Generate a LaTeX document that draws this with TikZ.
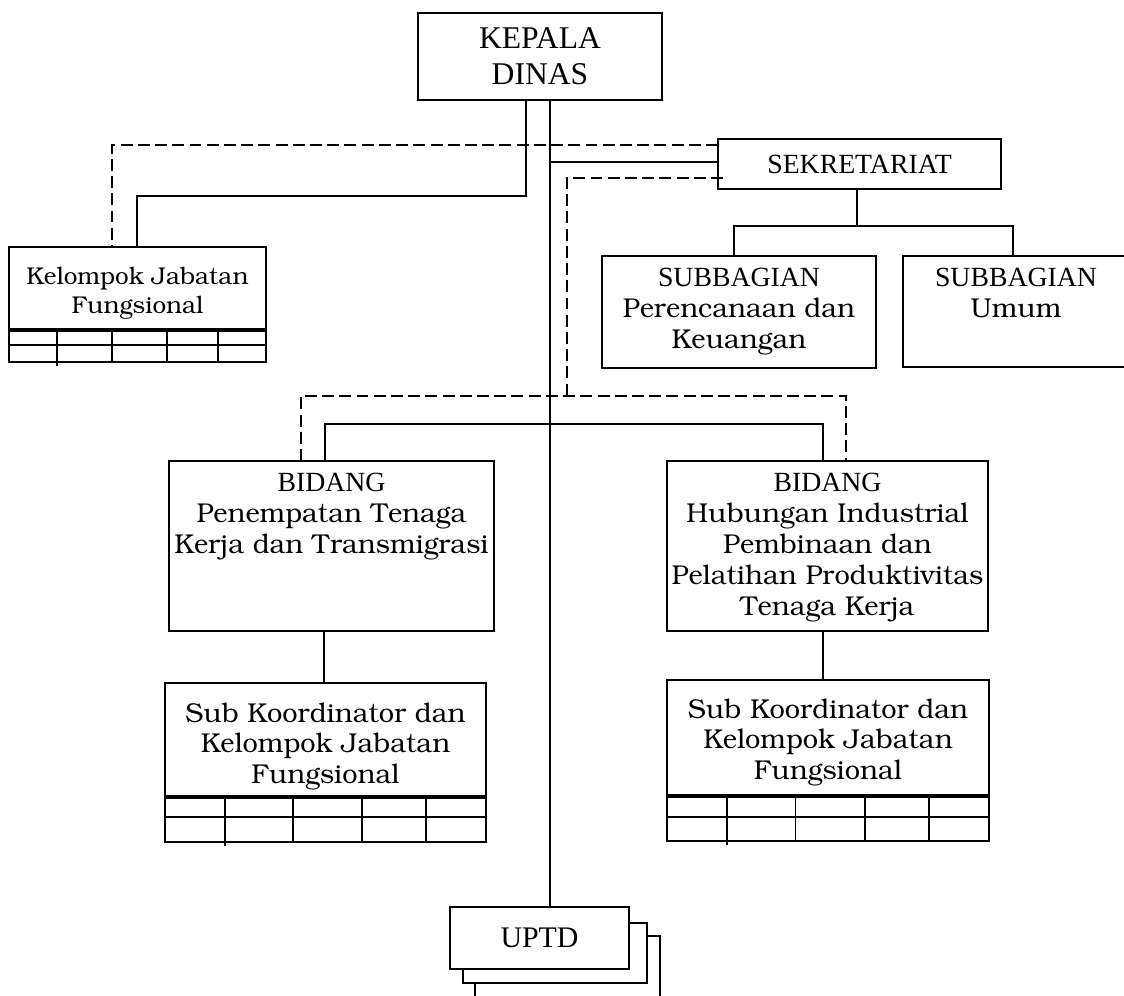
\documentclass[tikz,border=0pt]{standalone}
\usepackage[T1]{fontenc}
\usepackage{fontspec}
\setmainfont{Liberation Serif}
\usetikzlibrary{calc}
\newcommand{\bkm}{\fontencoding{T1}\fontfamily{pbk}\selectfont}
\newcommand{\tms}{\normalfont\fontsize{15.8}{17.6}\selectfont}

\begin{document}
\begin{tikzpicture}[
        x=0.02cm, y=-0.02cm, line width=1.1pt,
        box/.style={draw, anchor=north west, inner sep=0pt, outer sep=0pt},
        boxsize/.style 2 args={minimum width=#1*0.02cm, minimum height=#2*0.02cm},
        head/.style={font=\tms, align=center, inner sep=0pt},
        txt/.style={font=\bkm\fontsize{15.5}{17.6}\selectfont, align=center, inner sep=0pt, anchor=north},
        dashline/.style={dash pattern=on 6.8pt off 3pt},
        ]
        \useasboundingbox (0,0) rectangle (1124,995);

        % boxes
        \node[box, boxsize={244}{87}, head, font=\fontsize{18}{20.5}\selectfont] (kepala) at (418,13) {KEPALA\\DINAS};
        \node[box, boxsize={283}{50}, head] (sekre) at (718,139) {SEKRETARIAT};
        \node[box, boxsize={274}{112}] (subplan) at (602,256) {};
        \node[box, boxsize={226}{111}] (subumum) at (903,256) {};
        \node[box, boxsize={257}{115}] (kjf) at (9,247) {};
        \node[box, boxsize={325}{170}] (bid1) at (169,461) {};
        \node[box, boxsize={321}{170}] (bid2) at (667,461) {};
        \node[box, boxsize={321}{159}] (sub1) at (165,683) {};
        \node[box, boxsize={322}{161}] (sub2) at (667,680) {};
        \node[box, boxsize={185}{70}, fill=white] (uptd3) at (475,936) {};
        \node[box, boxsize={184}{60}, fill=white] (uptd2) at (463,923) {};
        \node[box, boxsize={179}{62}, fill=white, head, font=\fontsize{17}{20}\selectfont] (uptd) at (450,907) {UPTD};

        % texts
        \node[txt] (subplan-t) at ($(subplan.north)+(0,11)$) {{\tms SUBBAGIAN}\\Perencanaan dan\\Keuangan};
        \node[txt] (subumum-t) at ($(subumum.north)+(0,11)$) {{\tms SUBBAGIAN}\\Umum};
        \node[txt, font=\bkm\fontsize{13.8}{16}\selectfont] (kjf-t) at ($(kjf.north)+(0,20)$) {Kelompok Jabatan\\Fungsional};
        \node[txt] (bid1-t) at ($(bid1.north)+(0,11)$) {{\tms BIDANG}\\Penempatan Tenaga\\Kerja dan Transmigrasi};
        \node[txt] (bid2-t) at ($(bid2.north)+(0,11)$) {{\tms BIDANG}\\Hubungan Industrial\\Pembinaan dan\\Pelatihan Produktivitas\\Tenaga Kerja};
        \node[txt] (sub1-t) at ($(sub1.north)+(0,19)$) {Sub Koordinator dan\\Kelompok Jabatan\\Fungsional};
        \node[txt] (sub2-t) at ($(sub2.north)+(0,18)$) {Sub Koordinator dan\\Kelompok Jabatan\\Fungsional};

        % tables under the jabatan boxes
        \foreach \bx/\tk/\md in {kjf/83/98, sub1/114/134, sub2/116/137} {
          \draw[line width=1.8pt] ($(\bx.north west)+(0,\tk)$) -- ($(\bx.north east)+(0,\tk)$);
          \draw ($(\bx.north west)+(0,\md)$) -- ($(\bx.north east)+(0,\md)$);
          \foreach \f in {0.187,0.399,0.614,0.813}
            \draw ($(\bx.north west)!\f!(\bx.north east)+(0,\tk)$) -- ($(\bx.south west)!\f!(\bx.south east)$);
          \draw ($(\bx.south west)!0.187!(\bx.south east)$) -- ++(0,4);
        }

        % lines
        \coordinate (kA) at ($(kepala.south west)+(108,0)$);
        \coordinate (kB) at ($(kepala.south west)+(132,0)$);
        \coordinate (sA) at ($(sekre.north west)+(0,6)$);
        \coordinate (sB) at ($(sekre.north west)+(0,23)$);
        \coordinate (sC) at ($(sekre.north west)+(5,39)$);
        \draw (kA) |- ($(kjf.north west)+(128,-51)$) -- ($(kjf.north west)+(128,0)$);
        \draw (kB) -- (kB |- uptd.north);
        \draw (sB) -- (sB -| kB);
        \draw[dashline] (sA) -| ($(kjf.north west)+(103,0)$);
        \draw[dashline] (sC) -| ($(bid1.north west)+(398,-65)$);
        \draw[dashline] ($(bid1.north west)+(132,0)$) |- ($(bid2.north west)+(179,-65)$) -- ($(bid2.north west)+(179,0)$);
        \draw ($(bid1.north west)+(156,0)$) |- ($(bid2.north west)+(156,-37)$) -- ($(bid2.north west)+(156,0)$);
        \draw ($(sekre.south west)+(139,0)$) -- ++(0,37);
        \draw ($(subplan.north west)+(132,0)$) |- ($(subumum.north west)+(110,-30)$) -- ($(subumum.north west)+(110,0)$);
        \draw ($(bid1.south west)+(155,0)$) -- ($(sub1.north west)+(159,0)$);
        \draw ($(bid2.south west)+(156,0)$) -- ($(sub2.north west)+(156,0)$);
\end{tikzpicture}
\end{document}
